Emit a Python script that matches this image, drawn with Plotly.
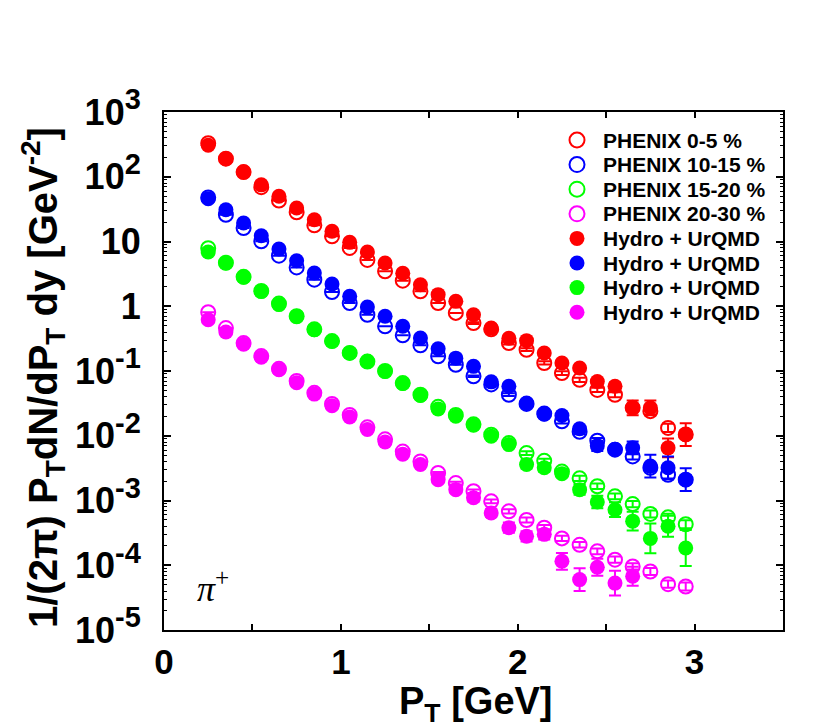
import plotly.graph_objects as go

# ---------------- data ----------------
pt = [0.25, 0.35, 0.45, 0.55, 0.65, 0.75, 0.85, 0.95, 1.05, 1.15,
      1.25, 1.35, 1.45, 1.55, 1.65, 1.75, 1.85, 1.95, 2.05, 2.15,
      2.25, 2.35, 2.45, 2.55, 2.65, 2.75, 2.85, 2.95]

phenix_0_5 = [330, 190, 118, 69, 43, 28.3, 17.8, 12.0, 7.95, 5.2,
              3.47, 2.48, 1.70, 1.12, 0.79, 0.55, 0.44, 0.27, 0.213, 0.133,
              0.093, 0.073, 0.051, 0.043, 0.027, 0.024, 0.0132, 0.0105]
phenix_10_15 = [48, 25.9, 16.1, 10.1, 6.04, 3.98, 2.57, 1.66, 1.12, 0.74,
                0.49, 0.355, 0.25, 0.169, 0.125, 0.083, 0.062, 0.043, 0.031, 0.022,
                0.0167, 0.0115, 0.0084, 0.0061, 0.0048, 0.0032, 0.0025, 0.0021]
phenix_15_20 = [7.9, 4.7, 2.85, 1.72, 1.1, 0.70, 0.44, 0.29, 0.19, 0.14,
                0.10, 0.065, 0.043, 0.028, 0.021, 0.015, 0.0104, 0.0077, 0.0054, 0.0041,
                0.0028, 0.0022, 0.00166, 0.00116, 0.00088, 0.00062, 0.00055, 0.00043]
phenix_20_30 = [0.81, 0.46, 0.27, 0.17, 0.108, 0.07, 0.046, 0.031, 0.021, 0.0135,
                0.0088, 0.0057, 0.0040, 0.00266, 0.00186, 0.00139, 0.00097, 0.00068, 0.0005, 0.00038,
                0.00026, 0.000207, 0.000164, 0.000122, 0.000096, 0.00008, 0.000051, 0.000047]

hydro_0_5 = [306, 190, 118, 75, 50, 32.9, 21.7, 14.4, 9.7, 6.9,
             4.66, 3.24, 2.15, 1.51, 1.19, 0.74, 0.46, 0.32, 0.294, 0.19,
             0.133, 0.111, 0.069, 0.058, 0.027, 0.027, 0.0065, 0.0104]
hydro_10_15 = [45.8, 31, 19.3, 12.3, 7.66, 5.04, 3.26, 2.21, 1.43, 0.97,
               0.70, 0.49, 0.324, 0.221, 0.158, 0.118, 0.068, 0.058, 0.032, 0.0215,
               0.0206, 0.0128, 0.0070, 0.0062, 0.0065, 0.0034, 0.0032, 0.0021]
hydro_15_20 = [6.9, 4.66, 2.8, 1.70, 1.06, 0.70, 0.435, 0.288, 0.19, 0.141,
               0.098, 0.064, 0.042, 0.026, 0.020, 0.0145, 0.0098, 0.0073, 0.0036, 0.0032,
               0.0026, 0.00147, 0.00095, 0.00072, 0.00048, 0.00026, 0.0004, 0.000185]
hydro_20_30 = [0.62, 0.40, 0.26, 0.163, 0.105, 0.066, 0.044, 0.029, 0.0195, 0.0125,
               0.0080, 0.0052, 0.0036, 0.0021, 0.00147, 0.0011, 0.00064, 0.00038, 0.00028, 0.0003,
               0.000115, 0.00006, 0.000093, 0.000053, 0.0000675, None, None, None]

# multiplicative (log-symmetric) error factors
phenix_err_0_5 = [1]*15 + [1.03, 1.04, 1.05, 1.05, 1.06, 1.07, 1.08, 1.08, 1.09, 1.1, 1.12, 1.16, 1.15]
phenix_err_10_15 = [1]*15 + [1.03, 1.04, 1.05, 1.06, 1.07, 1.08, 1.09, 1.1, 1.1, 1.12, 1.13, 1.14, 1.15]
phenix_err_15_20 = [1]*15 + [1.04, 1.05, 1.06, 1.07, 1.08, 1.09, 1.1, 1.1, 1.11, 1.12, 1.13, 1.14, 1.15]
phenix_err_20_30 = [1]*13 + [1.04, 1.05, 1.06, 1.07, 1.08, 1.09, 1.1, 1.1, 1.1, 1.11, 1.12, 1.12, 1.13, 1.14, 1.15]

hydro_err_0_5 = [1]*22 + [1.1, 1.15, 1.3, 1.3, 1.4, 1.5]
hydro_err_10_15 = [1]*20 + [1.05, 1.08, 1.2, 1.1, 1.25, 1.5, 1.5, 1.5]
hydro_err_15_20 = [1]*17 + [1.05, 1.15, 1.15, 1.1, 1.2, 1.25, 1.3, 1.4, 1.7, 1.45, 1.9]
hydro_err_20_30 = [1]*13 + [1.1, 1.1, 1.15, 1.15, 1.2, 1.2, 1.2, 1.35, 1.5, 1.35, 1.55, 1.4, 1, 1, 1]

legend_names = ["PHENIX 0-5 %", "PHENIX 10-15 %", "PHENIX 15-20 %", "PHENIX 20-30 %",
                "Hydro + UrQMD", "Hydro + UrQMD", "Hydro + UrQMD", "Hydro + UrQMD"]

x_tick_vals = [0, 0.5, 1, 1.5, 2, 2.5, 3, 3.5]
x_tick_text = ["0", "", "1", "", "2", "", "3", ""]
y_tick_vals = [1e3, 1e2, 1e1, 1, 1e-1, 1e-2, 1e-3, 1e-4, 1e-5]
y_tick_base = ["10", "10", "10", "1", "10", "10", "10", "10", "10"]
y_tick_exp = ["3", "2", "", "", "-1", "-2", "-3", "-4", "-5"]

# ---------------- styling ----------------
colors = ["#ff0000", "#0000ff", "#00ff00", "#ff00ff"]
FONT = "Liberation Sans, Arial, Helvetica, sans-serif"
W, H = 830, 727
L, R, T, B = 156, 775, 104, 622


def paper(px, py):
    return (px - L) / (R - L), (B - py) / (B - T)


def err_arrays(vals, factors):
    up, dn = [], []
    for v, f in zip(vals, factors):
        if v is None:
            up.append(None); dn.append(None)
        else:
            up.append(v * (f - 1)); dn.append(v * (1 - 1 / f))
    return up, dn


y_tick_text = [b + (f"<sup><span style='font-size:29px'>{e}</span></sup>" if e else "")
               for b, e in zip(y_tick_base, y_tick_exp)]

fig = go.Figure()

phenix = [phenix_0_5, phenix_10_15, phenix_15_20, phenix_20_30]
phenix_err = [phenix_err_0_5, phenix_err_10_15, phenix_err_15_20, phenix_err_20_30]
hydro = [hydro_0_5, hydro_10_15, hydro_15_20, hydro_20_30]
hydro_err = [hydro_err_0_5, hydro_err_10_15, hydro_err_15_20, hydro_err_20_30]

for i in range(4):
    up, dn = err_arrays(phenix[i], phenix_err[i])
    fig.add_trace(go.Scatter(
        x=pt, y=phenix[i], mode="markers", name=legend_names[i], showlegend=False,
        marker=dict(symbol="circle-open", size=14, color=colors[i], line=dict(width=2, color=colors[i])),
        error_y=dict(type="data", symmetric=False, array=up, arrayminus=dn,
                     color=colors[i], thickness=2, width=6),
    ))
for i in range(4):
    up, dn = err_arrays(hydro[i], hydro_err[i])
    fig.add_trace(go.Scatter(
        x=pt, y=hydro[i], mode="markers", name=legend_names[4 + i], showlegend=False,
        marker=dict(symbol="circle", size=15, color=colors[i], line=dict(width=0)),
        error_y=dict(type="data", symmetric=False, array=up, arrayminus=dn,
                     color=colors[i], thickness=2, width=6),
    ))

# manual legend (gnuplot-style key)
shapes = []
annotations = []
row0, drow = 132, 24.6
rx = 7.5
for k, name in enumerate(legend_names):
    cy = row0 + k * drow
    x0, y0 = paper(569 - rx, cy + rx)
    x1, y1 = paper(569 + rx, cy - rx)
    col = colors[k % 4]
    if k < 4:
        shapes.append(dict(type="circle", xref="paper", yref="paper", x0=x0, y0=y0, x1=x1, y1=y1,
                           line=dict(color=col, width=2), fillcolor="rgba(0,0,0,0)"))
    else:
        shapes.append(dict(type="circle", xref="paper", yref="paper", x0=x0, y0=y0, x1=x1, y1=y1,
                           line=dict(color=col, width=0), fillcolor=col))
    tx, ty = paper(594, cy)
    annotations.append(dict(x=tx, y=ty, xref="paper", yref="paper", text=name, showarrow=False,
                            xanchor="left", yanchor="middle", borderpad=0,
                            font=dict(family=FONT, size=21, color="black", weight="bold")))

# axis titles
ax, ay = paper(35, 370)
annotations.append(dict(x=ax, y=ay, xref="paper", yref="paper", showarrow=False, textangle=-90,
                        text="1/(2π) P<sub>T</sub>dN/dP<sub>T</sub> dy [GeV<sup>-2</sup>]",
                        xanchor="center", yanchor="middle",
                        font=dict(family=FONT, size=40, color="black", weight="bold")))
bx, by = paper(468, 696)
annotations.append(dict(x=bx, y=by, xref="paper", yref="paper", showarrow=False,
                        text="P<sub>T</sub> [GeV]", xanchor="center", yanchor="middle", borderpad=0,
                        font=dict(family=FONT, size=38, color="black", weight="bold")))
# particle label
px_, py_ = paper(205, 578)
annotations.append(dict(x=px_, y=py_, xref="paper", yref="paper", showarrow=False,
                        text="<i>π</i><sup>+</sup>", xanchor="center", yanchor="middle",
                        font=dict(family="Liberation Serif, Times New Roman, serif", size=36, color="black")))

minor_y = [m * 10.0 ** d for d in range(-5, 3) for m in range(2, 10)]

fig.update_layout(
    width=W, height=H,
    margin=dict(l=L, r=W - R, t=T, b=H - B, pad=0),
    paper_bgcolor="white", plot_bgcolor="white",
    showlegend=False,
    shapes=shapes, annotations=annotations,
)
fig.update_xaxes(
    range=[0, 3.5], tickmode="array", tickvals=x_tick_vals, ticktext=x_tick_text,
    ticks="inside", ticklen=6, tickwidth=1.5, tickcolor="black",
    showline=True, linewidth=2, linecolor="black", mirror="ticks",
    showgrid=False, zeroline=False, ticklabelstandoff=0,
    tickfont=dict(family=FONT, size=35, color="black", weight="bold"),
)
fig.update_yaxes(
    type="log", range=[-5, 3], tickmode="array", tickvals=y_tick_vals, ticktext=y_tick_text,
    ticks="inside", ticklen=7, tickwidth=1.5, tickcolor="black",
    showline=True, linewidth=2, linecolor="black", mirror="ticks",
    showgrid=False, zeroline=False, ticklabelstandoff=14,
    tickfont=dict(family=FONT, size=36, color="black", weight="bold"),
    minor=dict(tickmode="array", tickvals=minor_y, ticks="inside", ticklen=3,
               tickwidth=1, tickcolor="black", showgrid=False),
)

fig.write_html("out.html")
